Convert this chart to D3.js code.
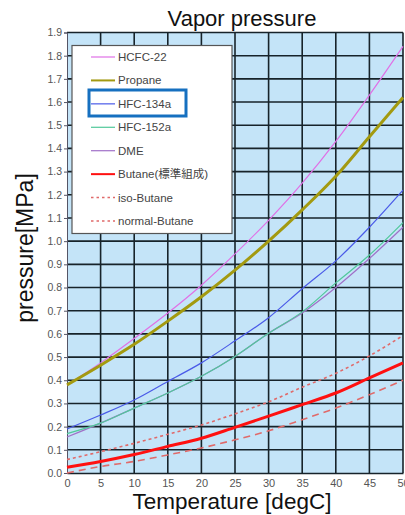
<!DOCTYPE html>
<html>
<head>
<meta charset="utf-8">
<script src="https://cdn.jsdelivr.net/npm/d3@7"></script>
<style>
  html, body { margin: 0; padding: 0; background: #ffffff; }
  svg { display: block; }
</style>
</head>
<body>
<svg id="chart" width="405" height="515"></svg>
<script>
const temps = [0, 5, 10, 15, 20, 25, 30, 35, 40, 45, 50];
const hcfc22 = [0.38, 0.475, 0.58, 0.69, 0.81, 0.945, 1.09, 1.25, 1.43, 1.63, 1.84];
const propane = [0.38, 0.465, 0.555, 0.655, 0.76, 0.875, 1.0, 1.135, 1.28, 1.45, 1.62];
const hfc134a = [0.19, 0.25, 0.315, 0.395, 0.475, 0.57, 0.67, 0.795, 0.915, 1.06, 1.22];
const hfc152a = [0.17, 0.215, 0.28, 0.345, 0.417, 0.503, 0.603, 0.695, 0.82, 0.94, 1.08];
const dme = [0.155, 0.215, 0.28, 0.345, 0.417, 0.503, 0.603, 0.69, 0.80, 0.925, 1.06];
const butane = [0.025, 0.05, 0.08, 0.115, 0.15, 0.197, 0.245, 0.295, 0.345, 0.41, 0.475];
const isoButane = [0.058, 0.092, 0.128, 0.167, 0.207, 0.255, 0.307, 0.37, 0.43, 0.505, 0.593];
const normalButane = [0.0, 0.028, 0.05, 0.078, 0.108, 0.143, 0.182, 0.23, 0.28, 0.338, 0.40];

const seriesNames = ["HCFC-22", "Propane", "HFC-134a", "HFC-152a", "DME", "Butane(標準組成)", "iso-Butane", "normal-Butane"];
const seriesValues = [hcfc22, propane, hfc134a, hfc152a, dme, butane, isoButane, normalButane];
const seriesColors = ["#e070e6", "#a39a10", "#4a5ae8", "#50c89a", "#a070c8", "#ff1010", "#e06a6a", "#e06a6a"];
const seriesWidths = [1.2, 3, 1.2, 1.2, 1.2, 3, 1.6, 1.6];
const seriesDash = [null, null, null, null, null, null, "3,3", "7,5"];

const xTicks = [0, 5, 10, 15, 20, 25, 30, 35, 40, 45, 50];
const yTicks = d3.range(0, 20).map(i => i / 10);

const svg = d3.select("#chart");
const margin = { left: 67, right: 403, top: 32.5, bottom: 473 };

const x = d3.scaleLinear().domain([0, 50]).range([margin.left, margin.right]);
const y = d3.scaleLinear().domain([0, 1.9]).range([margin.bottom, margin.top]);

// background
svg.append("rect")
  .attr("x", margin.left).attr("y", margin.top)
  .attr("width", margin.right - margin.left)
  .attr("height", margin.bottom - margin.top)
  .attr("fill", "#c4e4f8");

// grid
svg.append("g").selectAll("line").data(xTicks.slice(1)).join("line")
  .attr("x1", d => x(d)).attr("x2", d => x(d))
  .attr("y1", margin.top).attr("y2", margin.bottom)
  .attr("stroke", "#17232a").attr("stroke-width", 1.6);
svg.append("g").selectAll("line").data(yTicks.slice(1)).join("line")
  .attr("x1", margin.left).attr("x2", margin.right)
  .attr("y1", d => y(d)).attr("y2", d => y(d))
  .attr("stroke", "#17232a").attr("stroke-width", 1.6);

// left axis
const yAxis = d3.axisLeft(y).tickValues(yTicks).tickSize(3).tickFormat(d3.format(".1f"));
const gy = svg.append("g").attr("transform", `translate(${margin.left},0)`).call(yAxis);
gy.select(".domain").attr("stroke", "#556");
gy.selectAll(".tick line").attr("stroke", "#556");
gy.selectAll("text").attr("fill", "#555").attr("font-size", 10.5)
  .attr("font-family", "Arial, 'Liberation Sans', sans-serif").attr("x", -5);

// bottom axis
const xAxis = d3.axisBottom(x).tickValues(xTicks).tickSize(0).tickFormat(d3.format("d"));
const gx = svg.append("g").attr("transform", `translate(0,${margin.bottom})`).call(xAxis);
gx.select(".domain").attr("stroke", "#17232a").attr("stroke-width", 1.6);
gx.selectAll("text").attr("fill", "#555").attr("font-size", 11)
  .attr("font-family", "Arial, 'Liberation Sans', sans-serif").attr("dy", "1.0em");

// lines
const line = d3.line().x((d, i) => x(temps[i])).y(d => y(d)).curve(d3.curveMonotoneX);
const drawOrder = [7, 6, 5, 4, 3, 2, 0, 1];
svg.append("g").selectAll("path").data(drawOrder).join("path")
  .attr("d", i => line(seriesValues[i]))
  .attr("fill", "none")
  .attr("stroke", i => seriesColors[i])
  .attr("stroke-width", i => seriesWidths[i])
  .attr("stroke-dasharray", i => seriesDash[i]);

// legend
const lg = svg.append("g");
lg.append("rect").attr("x", 72).attr("y", 45.5).attr("width", 160).attr("height", 188)
  .attr("fill", "#ffffff").attr("stroke", "#555").attr("stroke-width", 1.2);
const legendY = d3.scalePoint().domain(seriesNames).range([57, 221]);
seriesNames.forEach((name, i) => {
  const yy = legendY(name);
  lg.append("line").attr("x1", 91).attr("x2", 115).attr("y1", yy).attr("y2", yy)
    .attr("stroke", seriesColors[i])
    .attr("stroke-width", Math.min(seriesWidths[i], 2))
    .attr("stroke-dasharray", seriesDash[i] ? "2.5,3" : null);
  lg.append("text").attr("x", 118).attr("y", yy).attr("dy", "0.35em")
    .attr("font-size", 11.5).attr("fill", "#444")
    .attr("font-family", "Arial, 'Liberation Sans', 'Noto Sans CJK JP', sans-serif")
    .text(name);
});
// highlight box
lg.append("rect").attr("x", 89).attr("y", 90).attr("width", 97).attr("height", 26)
  .attr("fill", "none").attr("stroke", "#1670c0").attr("stroke-width", 3);

// titles
svg.append("text").attr("x", 242).attr("y", 26).attr("text-anchor", "middle")
  .attr("font-size", 22).attr("fill", "#111")
  .attr("font-family", "Arial, 'Liberation Sans', sans-serif").text("Vapor pressure");
svg.append("text").attr("x", 232).attr("y", 509).attr("text-anchor", "middle")
  .attr("font-size", 22.5).attr("fill", "#111")
  .attr("font-family", "Arial, 'Liberation Sans', sans-serif").text("Temperature [degC]");
svg.append("text").attr("transform", "translate(33,248) rotate(-90)")
  .attr("text-anchor", "middle")
  .attr("font-size", 23).attr("fill", "#111")
  .attr("font-family", "Arial, 'Liberation Sans', sans-serif").text("pressure[MPa]");
</script>
</body>
</html>
